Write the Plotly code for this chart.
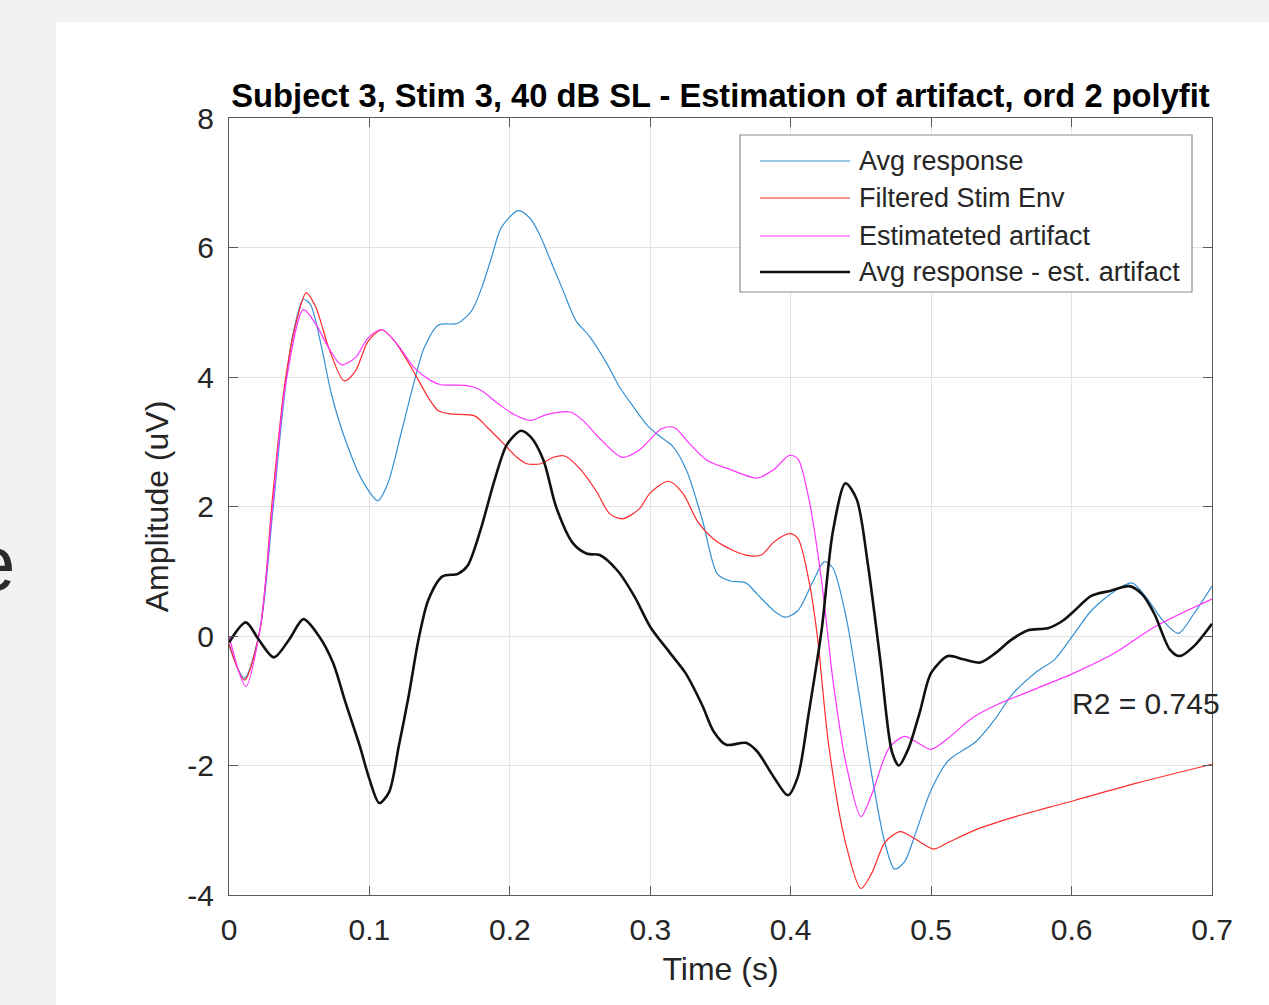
import plotly.graph_objects as go

# ---------------- data ----------------
t_avg = [0, 0.011, 0.022, 0.031, 0.038, 0.045, 0.053, 0.058, 0.066, 0.073, 0.083, 0.095, 0.106, 0.113,
         0.123, 0.132, 0.139, 0.149, 0.163, 0.173, 0.18, 0.187, 0.194, 0.206, 0.214, 0.221, 0.228, 0.238,
         0.247, 0.257, 0.269, 0.278, 0.288, 0.298, 0.307, 0.316, 0.326, 0.337, 0.348, 0.357, 0.368, 0.376,
         0.388, 0.396, 0.405, 0.416, 0.424, 0.43, 0.439, 0.447, 0.458, 0.467, 0.474, 0.481, 0.489, 0.5,
         0.512, 0.532, 0.546, 0.557, 0.574, 0.588, 0.602, 0.614, 0.631, 0.643, 0.653, 0.665, 0.676, 0.687, 0.7]
y_avg = [-0.15, -0.65, 0.09, 1.89, 3.43, 4.6, 5.2, 5.12, 4.45, 3.73, 3.02, 2.4, 2.09, 2.35,
         3.17, 3.94, 4.45, 4.8, 4.83, 5.03, 5.38, 5.85, 6.31, 6.57, 6.46, 6.21, 5.85, 5.33,
         4.87, 4.62, 4.21, 3.85, 3.54, 3.25, 3.08, 2.93, 2.55, 1.8, 0.95, 0.85, 0.82, 0.65,
         0.39, 0.29, 0.39, 0.85, 1.15, 1.05, 0.34, -0.67, -2.18, -3.19, -3.6, -3.49, -3.04, -2.38,
         -1.93, -1.63, -1.27, -0.92, -0.57, -0.36, 0.04, 0.39, 0.7, 0.82, 0.6, 0.24, 0.04, 0.34, 0.77]

t_env = [0, 0.011, 0.022, 0.031, 0.04, 0.048, 0.055, 0.062, 0.071, 0.082, 0.09, 0.099, 0.109, 0.118,
         0.13, 0.142, 0.149, 0.158, 0.175, 0.184, 0.196, 0.205, 0.212, 0.222, 0.231, 0.239, 0.25, 0.262,
         0.271, 0.28, 0.292, 0.3, 0.313, 0.323, 0.334, 0.348, 0.368, 0.379, 0.388, 0.399, 0.405, 0.413,
         0.419, 0.427, 0.439, 0.45, 0.458, 0.467, 0.478, 0.489, 0.502, 0.512, 0.532, 0.56, 0.602, 0.645, 0.7]
y_env = [-0.12, -0.68, 0.09, 2.14, 3.94, 4.86, 5.3, 5.07, 4.45, 3.94, 4.09, 4.55, 4.73, 4.55,
         4.14, 3.68, 3.48, 3.43, 3.4, 3.22, 2.96, 2.76, 2.66, 2.66, 2.76, 2.78, 2.58, 2.22,
         1.89, 1.81, 1.96, 2.21, 2.39, 2.21, 1.76, 1.45, 1.25, 1.25, 1.45, 1.58, 1.51, 0.85,
         -0.01, -1.68, -3.19, -3.9, -3.65, -3.19, -3.02, -3.14, -3.29, -3.19, -2.99, -2.79, -2.54, -2.28, -1.98]

t_art = [0, 0.012, 0.022, 0.031, 0.04, 0.053, 0.062, 0.071, 0.08, 0.09, 0.099, 0.109, 0.12, 0.132,
         0.144, 0.151, 0.168, 0.179, 0.191, 0.203, 0.215, 0.226, 0.243, 0.252, 0.264, 0.28, 0.292, 0.308,
         0.317, 0.328, 0.34, 0.357, 0.376, 0.388, 0.399, 0.405, 0.413, 0.422, 0.43, 0.439, 0.45, 0.458,
         0.47, 0.481, 0.489, 0.5, 0.512, 0.529, 0.546, 0.574, 0.602, 0.631, 0.659, 0.7]
y_art = [0.0, -0.78, 0.09, 1.99, 3.84, 5.04, 4.81, 4.45, 4.19, 4.3, 4.6, 4.73, 4.5, 4.14,
         3.94, 3.88, 3.87, 3.8, 3.6, 3.42, 3.33, 3.42, 3.46, 3.33, 3.05, 2.76, 2.87, 3.2,
         3.22, 2.97, 2.72, 2.57, 2.44, 2.57, 2.79, 2.74, 2.11, 0.85, -0.67, -1.93, -2.79, -2.43,
         -1.73, -1.55, -1.63, -1.75, -1.58, -1.27, -1.07, -0.82, -0.57, -0.26, 0.14, 0.57]

t_diff = [0, 0.012, 0.021, 0.032, 0.043, 0.053, 0.064, 0.074, 0.083, 0.093, 0.1, 0.107, 0.114, 0.121,
          0.128, 0.135, 0.142, 0.152, 0.163, 0.17, 0.179, 0.189, 0.198, 0.208, 0.215, 0.224, 0.233, 0.245,
          0.255, 0.264, 0.277, 0.289, 0.3, 0.314, 0.325, 0.337, 0.345, 0.354, 0.368, 0.376, 0.388, 0.398,
          0.405, 0.413, 0.422, 0.43, 0.439, 0.447, 0.455, 0.464, 0.472, 0.477, 0.484, 0.492, 0.5, 0.512,
          0.523, 0.535, 0.546, 0.557, 0.569, 0.583, 0.594, 0.602, 0.614, 0.628, 0.641, 0.65, 0.659, 0.67,
          0.677, 0.687, 0.7]
y_diff = [-0.1, 0.21, -0.05, -0.33, -0.05, 0.26, 0.0, -0.41, -1.03, -1.69, -2.21, -2.58, -2.41, -1.69,
          -0.92, -0.05, 0.56, 0.92, 0.96, 1.09, 1.63, 2.4, 2.96, 3.17, 3.07, 2.71, 1.99, 1.43,
          1.27, 1.25, 1.0, 0.6, 0.14, -0.26, -0.57, -1.07, -1.47, -1.68, -1.65, -1.78, -2.18, -2.46,
          -2.18, -1.17, 0.09, 1.61, 2.36, 2.11, 1.1, -0.41, -1.78, -2.0, -1.73, -1.17, -0.57, -0.31,
          -0.36, -0.41, -0.26, -0.06, 0.09, 0.12, 0.24, 0.39, 0.62, 0.7, 0.77, 0.65, 0.34, -0.21,
          -0.31, -0.16, 0.19]

series_names = ["Avg response", "Filtered Stim Env", "Estimateted artifact", "Avg response - est. artifact"]
series_colors = ["#3590d2", "#ff2a2a", "#ff33ff", "#111111"]
series_widths = [1.2, 1.2, 1.2, 2.6]

x_ticks = [0, 0.1, 0.2, 0.3, 0.4, 0.5, 0.6, 0.7]
x_tick_labels = ["0", "0.1", "0.2", "0.3", "0.4", "0.5", "0.6", "0.7"]
y_ticks = [-4, -2, 0, 2, 4, 6, 8]
y_tick_labels = ["-4", "-2", "0", "2", "4", "6", "8"]

title_text = "Subject 3, Stim 3, 40 dB SL - Estimation of artifact, ord 2 polyfit"
r2_text = "R2 = 0.745"
r2_pos = (0.6, -1.05)

# ---------------- figure ----------------
W, H = 1269, 1005
L, R, T, B = 229, 57, 118, 110
pw, ph = W - L - R, H - T - B

def px(x):
    return (x - L) / pw

def py(y):
    return (H - B - y) / ph

FONT = "Liberation Sans, Arial, Helvetica, sans-serif"
TXT = "#262626"
PAGE_BG = "#f0f1f3"

fig = go.Figure()
for tx, ty, name, col, w in zip([t_avg, t_env, t_art, t_diff], [y_avg, y_env, y_art, y_diff],
                                 series_names, series_colors, series_widths):
    fig.add_trace(go.Scatter(x=tx, y=ty, mode="lines", name=name,
                             line=dict(color=col, width=w, shape="spline", smoothing=0.8),
                             showlegend=False, hoverinfo="skip"))

shapes = []
# white figure panel over gray page background
shapes.append(dict(type="rect", xref="paper", yref="paper", x0=px(56), x1=px(W + 5), y0=py(H + 5), y1=py(22),
                   fillcolor="white", line=dict(width=0), layer="below"))

# legend (custom, MATLAB-style)
shapes.append(dict(type="rect", xref="paper", yref="paper", x0=px(740), x1=px(1192), y0=py(292), y1=py(135),
                   fillcolor="white", line=dict(color="#8c8c8c", width=1.2), layer="above"))
row_y = [161, 198, 236, 272]
annotations = []
for name, col, w, ry in zip(series_names, series_colors, series_widths, row_y):
    shapes.append(dict(type="line", xref="paper", yref="paper", x0=px(760), x1=px(850), y0=py(ry), y1=py(ry),
                       line=dict(color=col, width=w), layer="above"))
    annotations.append(dict(xref="paper", yref="paper", x=px(857), y=py(ry), text=name, showarrow=False,
                            xanchor="left", yanchor="middle", font=dict(family=FONT, size=27, color=TXT)))

annotations.append(dict(xref="x", yref="y", x=r2_pos[0], y=r2_pos[1], text=r2_text, showarrow=False,
                        xanchor="left", yanchor="middle", xshift=-2,
                        font=dict(family=FONT, size=30, color=TXT)))
# stray letter at the left edge of the screenshot
annotations.append(dict(xref="paper", yref="paper", x=px(17), y=py(563), text="e", showarrow=False,
                        xanchor="right", yanchor="middle", font=dict(family=FONT, size=78, color="#2a2a2a")))

axis_common = dict(showgrid=True, gridcolor="#e3e3e3", gridwidth=1, zeroline=False,
                   showline=True, linecolor="#5a5a5a", linewidth=1.2, mirror="ticks",
                   ticks="inside", ticklen=9, tickcolor="#5a5a5a", tickwidth=1,
                   tickfont=dict(family=FONT, size=30, color=TXT))

fig.update_layout(
    width=W, height=H,
    margin=dict(l=L, r=R, t=T, b=B, pad=0),
    paper_bgcolor=PAGE_BG, plot_bgcolor="white",
    title=dict(text="<b>" + title_text + "</b>", x=px(720.5), xref="paper", xanchor="center",
               y=1 - 96 / H, yref="container", yanchor="middle",
               font=dict(family=FONT, size=32.7, color="#000000")),
    xaxis=dict(range=[0, 0.7], tickvals=x_ticks, ticktext=x_tick_labels,
               title=dict(text="Time (s)", font=dict(family=FONT, size=32, color=TXT), standoff=12),
               ticklabelstandoff=8, **axis_common),
    yaxis=dict(range=[-4, 8], tickvals=y_ticks, ticktext=y_tick_labels,
               title=dict(text="Amplitude (uV)", font=dict(family=FONT, size=32, color=TXT), standoff=9),
               ticklabelstandoff=8, **axis_common),
    shapes=shapes, annotations=annotations,
)

fig.write_html("out.html", config={"displayModeBar": False},
               post_script="document.body.style.margin='0';document.body.style.padding='0';"
                           "document.body.style.background='" + PAGE_BG + "';")
